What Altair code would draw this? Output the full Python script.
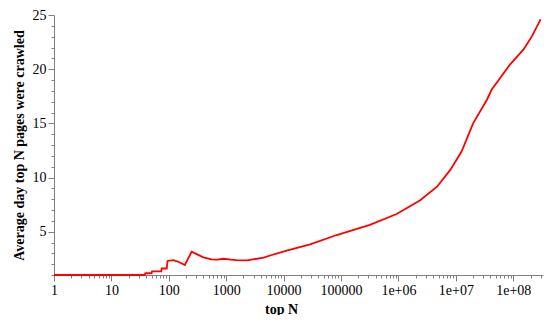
import altair as alt
import pandas as pd

top_n = [1, 38, 39, 50, 51, 74, 75, 92, 95, 120, 150, 190, 250, 300, 400, 550, 700, 900,
         1200, 1500, 2300, 4500, 5800, 11300, 29000, 84000, 318000, 930000,
         2.4e6, 4.7e6, 8e6, 1.26e7, 2e7, 3.5e7, 4.2e7, 8.7e7, 1.5e8, 2.1e8, 3.0e8]
avg_day = [1.0, 1.0, 1.16, 1.16, 1.34, 1.34, 1.6, 1.6, 2.3, 2.38, 2.2, 1.92, 3.15, 2.95,
           2.63, 2.45, 2.42, 2.5, 2.42, 2.38, 2.35, 2.6, 2.8, 3.25, 3.83, 4.69, 5.62, 6.63,
           7.9, 9.15, 10.7, 12.4, 15.0, 17.2, 18.1, 20.4, 21.8, 23.0, 24.6]

x_tick_values = [m * 10 ** d for d in range(0, 9) for m in range(1, 10) if m * 10 ** d <= 3.3e8]
y_tick_values = list(range(1, 26))

df = pd.DataFrame({"N": top_n, "v": avg_day})

major_x = "abs(log(datum.value)/LN10 - round(log(datum.value)/LN10)) < 0.001"
x_label = ("(" + major_x + ") ? (datum.value < 1e6 ? format(datum.value, 'd') : "
           "'1e+0' + format(round(log(datum.value)/LN10), 'd')) : ''")

font = "Liberation Serif"

chart = alt.Chart(df).mark_line(color="#ff0000", strokeWidth=1.8).encode(
    x=alt.X("N:Q",
            scale=alt.Scale(type="log", domain=[1, 3.3e8], nice=False),
            axis=alt.Axis(title="top N", values=x_tick_values, labelExpr=x_label,
                          labelOverlap=False, labelFlush=False, labelBound=False,
                          tickSize={"condition": {"test": major_x, "value": 6}, "value": 3},
                          titleX=227, titleY=38, titleBaseline="alphabetic",
                          titleAlign="center", labelPadding=2)),
    y=alt.Y("v:Q",
            scale=alt.Scale(domain=[1, 25], nice=False, zero=False),
            axis=alt.Axis(title="Average day top N pages were crawled",
                          values=y_tick_values,
                          labelExpr="datum.value % 5 == 0 ? datum.value : ''",
                          labelOverlap=False, labelFlush=False, labelBound=False,
                          tickSize={"condition": {"test": "datum.value % 5 == 0", "value": 6}, "value": 3},
                          titleX=-31, titleY=130, titleBaseline="alphabetic",
                          titleAlign="center", titleAngle=-90, labelPadding=2)),
).properties(
    width=489, height=260,
    autosize=alt.AutoSizeParams(type="none"),
    padding={"left": 46, "top": 7, "right": 4, "bottom": 40},
).configure_view(stroke=None).configure_axis(
    grid=False,
    domainColor="#808080",
    tickColor="#808080",
    labelFont=font, labelFontSize=14, labelColor="#000000",
    titleFont=font, titleFontSize=14, titleFontWeight="bold", titleColor="#000000",
)

chart.save("out.html", embed_options={"renderer": "svg", "actions": False})
